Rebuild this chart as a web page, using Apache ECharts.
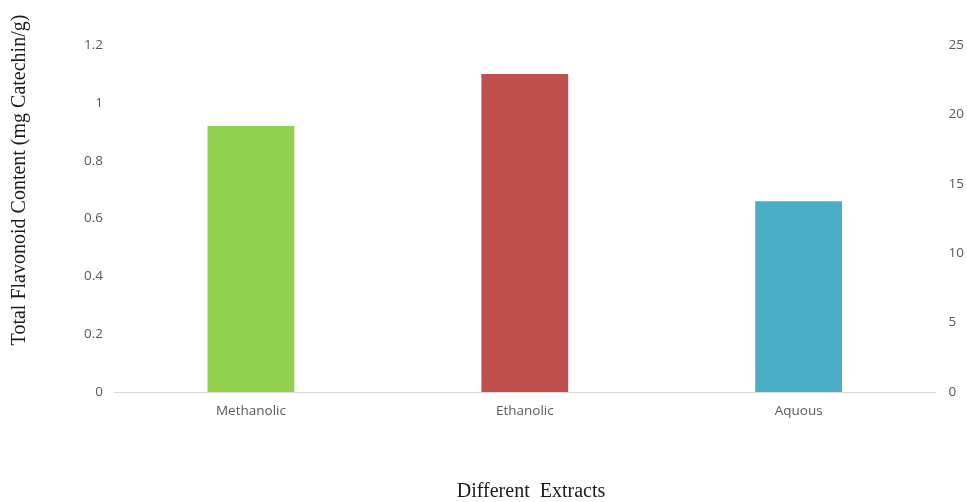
<!DOCTYPE html>
<html>
<head>
<meta charset="utf-8">
<script src="https://cdn.jsdelivr.net/npm/echarts@6/dist/echarts.min.js"></script>
<style>
  html, body { margin: 0; padding: 0; background: #fff; }
  #chart { width: 967px; height: 502px; }
</style>
</head>
<body>
<div id="chart"></div>
<script>
// 提取物类别和总黄酮含量
const categories = ['Methanolic', 'Ethanolic', 'Aquous']
const flavonoid = [0.92, 1.10, 0.66]
const barColors = ['#92d050', '#c0504d', '#4bacc6']

const labelStyle = { color: '#595959', fontSize: 13.5, fontFamily: 'Open Sans' }

const chart = echarts.init(document.getElementById('chart'))
chart.setOption({
  animation: false,
  grid: { left: 114, right: 30, top: 45, bottom: 110 },
  xAxis: {
    type: 'category',
    data: categories,
    axisLine: { lineStyle: { color: '#d9d9d9' } },
    axisTick: { show: false },
    axisLabel: { ...labelStyle, margin: 12 }
  },
  yAxis: [
    {
      type: 'value', min: 0, max: 1.2, interval: 0.2,
      splitLine: { show: false },
      axisLine: { show: false },
      axisLabel: { ...labelStyle, margin: 11 }
    },
    {
      // 右侧空轴
      type: 'value', min: 0, max: 25, interval: 5,
      position: 'right',
      splitLine: { show: false },
      axisLine: { show: false },
      axisLabel: { ...labelStyle, margin: 13 }
    }
  ],
  series: [
    {
      type: 'bar',
      barWidth: '31.7%',
      data: flavonoid.map((v, i) => ({ value: v, itemStyle: { color: barColors[i] } }))
    }
  ],
  graphic: [
    {
      type: 'text',
      x: 20, y: 180,
      rotation: Math.PI / 2,
      style: {
        text: 'Total Flavonoid Content (mg Catechin/g)',
        font: '20px "Liberation Serif"',
        fill: '#1a1a1a',
        textAlign: 'center',
        textVerticalAlign: 'middle'
      }
    },
    {
      type: 'text',
      x: 531, y: 492,
      style: {
        text: 'Different  Extracts',
        font: '20px "Liberation Serif"',
        fill: '#1a1a1a',
        textAlign: 'center',
        textVerticalAlign: 'middle'
      }
    }
  ]
})
</script>
</body>
</html>
